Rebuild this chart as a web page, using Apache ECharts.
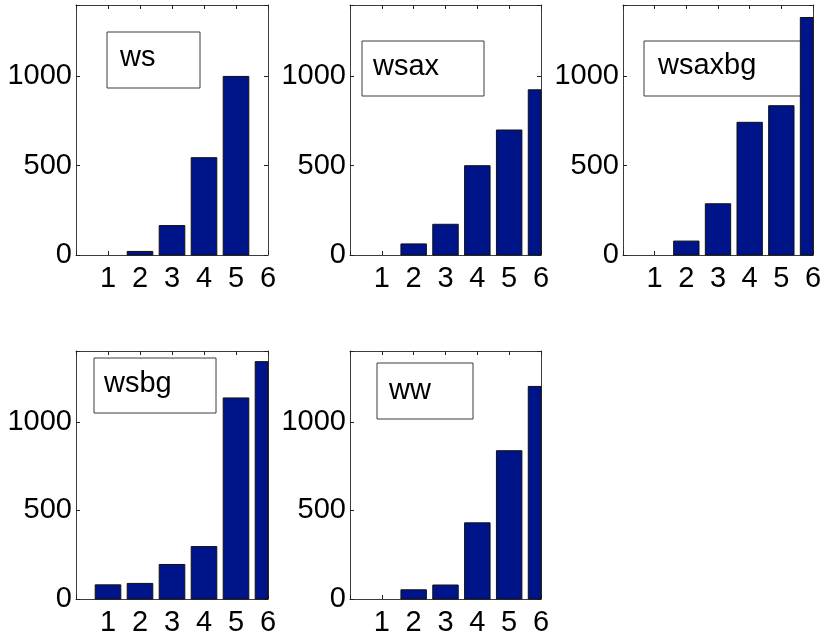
<!DOCTYPE html>
<html>
<head>
<meta charset="utf-8">
<title>Bar panels</title>
<script src="https://cdn.jsdelivr.net/npm/echarts@6.0.0/dist/echarts.min.js"></script>
<style>
  html, body { margin: 0; padding: 0; background: #fff; }
  #chart { width: 826px; height: 639px; }
</style>
</head>
<body>
<div id="chart"></div>
<script>
// Bar heights per configuration, at positions 1..6
const positions = [1, 2, 3, 4, 5, 6];
const ws     = [0, 20, 165, 545, 1000, 0];
const wsax   = [0, 62, 172, 500, 700, 925];
const wsaxbg = [0, 78, 287, 743, 836, 1330];
const wsbg   = [80, 88, 195, 296, 1135, 1340];
const ww     = [0, 52, 79, 430, 837, 1200];
const seriesNames = ['ws', 'wsax', 'wsaxbg', 'wsbg', 'ww'];
const yTickValues = [0, 500, 1000];
const xRange = [0, 6];
const yRange = [0, 1400];

const allSeries = [ws, wsax, wsaxbg, wsbg, ww];

// Panel rectangles and name-box placement (pixels)
const layout = [
  { grid: { left: 76,  top: 5,   width: 192, height: 250 }, box: { x: 107, y: 32,  w: 93,  h: 56 }, text: { x: 120, y: 58 } },
  { grid: { left: 350, top: 5,   width: 191, height: 250 }, box: { x: 362, y: 41,  w: 122, h: 55 }, text: { x: 373, y: 67 } },
  { grid: { left: 623, top: 5,   width: 190, height: 250 }, box: { x: 644, y: 41,  w: 165, h: 55 }, text: { x: 658, y: 66 } },
  { grid: { left: 76,  top: 351, width: 192, height: 248 }, box: { x: 94,  y: 358, w: 122, h: 55 }, text: { x: 104, y: 384 } },
  { grid: { left: 350, top: 351, width: 191, height: 248 }, box: { x: 377, y: 363, w: 96,  h: 56 }, text: { x: 389, y: 391 } }
];

const FONT = '"Liberation Sans", Arial, Helvetica, sans-serif';
const FONT_SIZE = 29;
const AXIS_COLOR = '#3c3c3c';
const BAR_COLOR = '#00148a';
const BAR_WIDTH = 0.8; // in axis units

// Bars drawn through the axis scales and clipped to the plot box
function renderBar(params, api) {
  const x = api.value(0);
  const y = api.value(1);
  const a = api.coord([x - BAR_WIDTH / 2, 0]);
  const b = api.coord([x + BAR_WIDTH / 2, y]);
  const rect = {
    x: Math.min(a[0], b[0]),
    y: Math.min(a[1], b[1]),
    width: Math.abs(b[0] - a[0]),
    height: Math.abs(b[1] - a[1])
  };
  if (rect.height < 0.5) return null;
  const cs = params.coordSys;
  const clipped = echarts.graphic.clipRectByRect(rect, { x: cs.x, y: cs.y, width: cs.width, height: cs.height });
  if (!clipped) return null;
  return {
    type: 'rect',
    shape: clipped,
    style: { fill: BAR_COLOR, stroke: '#111', lineWidth: 1 }
  };
}

const grids = [], xAxes = [], yAxes = [], series = [], graphics = [];

layout.forEach((p, i) => {
  grids.push(Object.assign({ outerBoundsMode: 'none', containLabel: false }, p.grid));

  const axisLine = { show: true, onZero: false, lineStyle: { color: AXIS_COLOR, width: 1 } };
  const axisTick = { show: true, inside: true, length: 4, lineStyle: { color: '#222', width: 1 } };

  // bottom and top x axes
  xAxes.push({
    type: 'value', gridIndex: i, position: 'bottom',
    min: xRange[0], max: xRange[1], interval: 1,
    axisLine, axisTick, splitLine: { show: false },
    axisLabel: {
      color: '#000', fontFamily: FONT, fontSize: FONT_SIZE, margin: 9,
      formatter: v => (positions.indexOf(v) >= 0 ? String(v) : '')
    }
  });
  xAxes.push({
    type: 'value', gridIndex: i, position: 'top',
    min: xRange[0], max: xRange[1], interval: 1,
    axisLine, axisTick, splitLine: { show: false },
    axisLabel: { show: false }
  });

  // left and right y axes
  yAxes.push({
    type: 'value', gridIndex: i, position: 'left',
    min: yRange[0], max: yRange[1], interval: 500,
    axisLine, axisTick, splitLine: { show: false },
    axisLabel: {
      color: '#000', fontFamily: FONT, fontSize: FONT_SIZE, margin: 4,
      formatter: v => (yTickValues.indexOf(v) >= 0 ? String(v) : '')
    }
  });
  yAxes.push({
    type: 'value', gridIndex: i, position: 'right',
    min: yRange[0], max: yRange[1], interval: 500,
    axisLine, axisTick, splitLine: { show: false },
    axisLabel: { show: false }
  });

  series.push({
    name: seriesNames[i],
    type: 'custom',
    xAxisIndex: i * 2,
    yAxisIndex: i * 2,
    renderItem: renderBar,
    encode: { x: 0, y: 1 },
    z: 3,
    data: positions.map((x, k) => [x, allSeries[i][k]])
  });

  // name box
  graphics.push({
    type: 'rect', z: 1,
    shape: { x: p.box.x, y: p.box.y, width: p.box.w, height: p.box.h },
    style: { fill: '#fff', stroke: AXIS_COLOR, lineWidth: 1 }
  });
  graphics.push({
    type: 'text', z: 2,
    x: p.text.x, y: p.text.y,
    style: {
      text: seriesNames[i], fill: '#000',
      font: FONT_SIZE + 'px ' + FONT,
      verticalAlign: 'middle', align: 'left'
    }
  });
});

const chart = echarts.init(document.getElementById('chart'), null, { renderer: 'canvas' });
chart.setOption({
  animation: false,
  backgroundColor: '#fff',
  grid: grids,
  xAxis: xAxes,
  yAxis: yAxes,
  series: series,
  graphic: { elements: graphics }
});
</script>
</body>
</html>
